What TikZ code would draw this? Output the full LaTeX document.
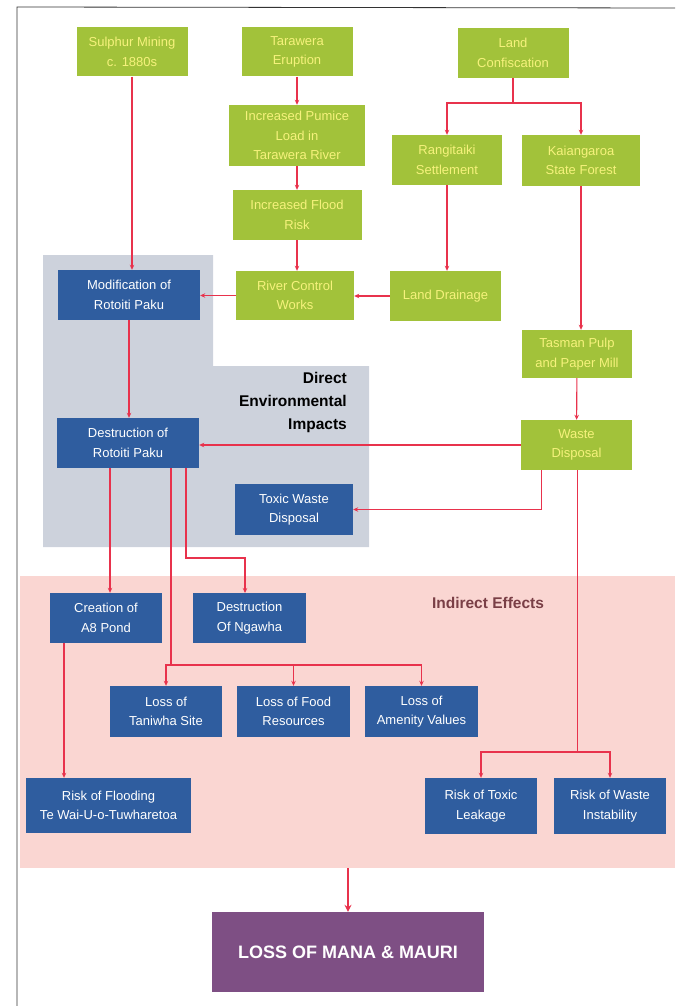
\documentclass[tikz,border=0pt]{standalone}
\usepackage{fontspec}
\setmainfont{Liberation Sans}
\usetikzlibrary{arrows.meta,positioning}
\definecolor{gbox}{HTML}{A2C23A}
\definecolor{gtext}{HTML}{F6F27C}
\definecolor{bbox}{HTML}{2F5D9F}
\definecolor{grayreg}{HTML}{CDD2DC}
\definecolor{pinkreg}{HTML}{FAD6D2}
\definecolor{purp}{HTML}{7E4F84}
\definecolor{lred}{HTML}{E8324C}
\definecolor{indtext}{HTML}{7A3F46}
\tikzset{
  gnode/.style={fill=gbox, text=gtext, align=center, inner sep=0pt, font=\fontsize{13}{19.5}\selectfont},
  bnode/.style={fill=bbox, text=white, align=center, inner sep=0pt, font=\fontsize{13}{19.5}\selectfont},
  conn/.style={draw=lred, line width=1.1pt, -{Stealth[length=5pt,width=4.5pt]}},
  line/.style={draw=lred, line width=1.1pt},
}
\begin{document}
\begin{tikzpicture}[x=1pt,y=-1pt]
\useasboundingbox (0,0) rectangle (675,1006);
% frame
\draw[line width=0.8pt, black!80] (17,1006) -- (17,7) -- (675,8);
% regions
\fill[grayreg] (43,255) -- (213,255) -- (213,366) -- (369,366) -- (369,547) -- (43,547) -- cycle;
\fill[pinkreg] (20,576) rectangle (675,868);
% green nodes
\node[gnode, minimum width=111pt, minimum height=49pt] (sulphur) at (132,52) {Sulphur Mining\\c. 1880s};
\node[gnode, minimum width=111pt, minimum height=49pt] (tarawera) at (297,52) {Tarawera\\Eruption};
\node[gnode, minimum width=111pt, minimum height=50pt] (landconf) at (513,53) {Land\\Confiscation};
\node[gnode, minimum width=136pt, minimum height=61pt] (pumice) at (297,135.5) {Increased Pumice\\Load in\\Tarawera River};
\node[gnode, minimum width=129pt, minimum height=50pt] (flood) at (297,215) {Increased Flood\\Risk};
\node[gnode, minimum width=110pt, minimum height=50pt] (rangi) at (447,160) {Rangitaiki\\Settlement};
\node[gnode, minimum width=118pt, minimum height=51pt] (kaing) at (581,160.5) {Kaiangaroa\\State Forest};
\node[gnode, minimum width=118pt, minimum height=49pt] (river) at (295,295.5) {River Control\\Works};
\node[gnode, minimum width=111pt, minimum height=50pt] (drain) at (445.5,296) {Land Drainage};
\node[gnode, minimum width=110pt, minimum height=48pt] (tasman) at (577,354) {Tasman Pulp\\and Paper Mill};
\node[gnode, minimum width=111pt, minimum height=50pt] (waste) at (576.5,445) {Waste\\Disposal};
% blue nodes
\node[bnode, minimum width=142pt, minimum height=50pt] (modif) at (129,295) {Modification of\\Rotoiti Paku};
\node[bnode, minimum width=142pt, minimum height=50pt] (destr) at (128,443) {Destruction of\\Rotoiti Paku};
\node[bnode, minimum width=118pt, minimum height=51pt] (toxic) at (294,509.5) {Toxic Waste\\Disposal};
\node[bnode, minimum width=112pt, minimum height=50pt] (a8) at (106,618) {Creation of\\A8 Pond};
\node[bnode, minimum width=113pt, minimum height=50pt] (ngawha) at (249.5,618) {Destruction\\Of Ngawha};
\node[bnode, minimum width=112pt, minimum height=51pt] (taniwha) at (166,711.5) {Loss of\\Taniwha Site};
\node[bnode, minimum width=113pt, minimum height=51pt] (food) at (293.5,711.5) {Loss of Food\\Resources};
\node[bnode, minimum width=113pt, minimum height=51pt] (amen) at (421.5,711.5) {Loss of\\Amenity Values};
\node[bnode, minimum width=165pt, minimum height=55pt] (riskflood) at (108.5,805.5) {Risk of Flooding\\Te Wai-U-o-Tuwharetoa};
\node[bnode, minimum width=112pt, minimum height=56pt] (risktox) at (481,806) {Risk of Toxic\\Leakage};
\node[bnode, minimum width=112pt, minimum height=56pt] (riskwaste) at (610,806) {Risk of Waste\\Instability};
\node[fill=purp, text=white, minimum width=272pt, minimum height=80pt, inner sep=0pt, font=\fontsize{18}{21}\selectfont\bfseries] (loss) at (348,952) {LOSS OF MANA \& MAURI};
% labels
\node[anchor=north east, align=right, font=\fontsize{15.5}{23}\selectfont\bfseries, inner sep=0pt] (direct) at (347,372) {Direct\\Environmental\\Impacts};
\node[font=\fontsize{15.5}{18}\selectfont\bfseries, text=indtext, inner sep=0pt] (indirect) at (488,603) {Indirect Effects};
\coordinate (pinkbot) at (348,868);
% connectors
\draw[conn] (sulphur.south) -- (sulphur.south |- modif.north);
\draw[conn] (tarawera) -- (pumice);
\draw[conn] (pumice) -- (flood);
\draw[conn] (flood.south) -- (flood.south |- river.north);
\draw[line] (landconf.south) -- (513,103);
\draw[conn] (513,103) -| (rangi.north);
\draw[conn] (513,103) -| (kaing.north);
\draw[conn] (rangi.south) -- (rangi.south |- drain.north);
\draw[conn] (kaing.south) -- (kaing.south |- tasman.north);
\draw[conn] (drain.west) -- (drain.west -| river.east);
\draw[conn] (river.west) -- (river.west -| modif.east);
\draw[conn] (modif.south) -- (modif.south |- destr.north);
\draw[conn] (tasman) -- (waste);
\draw[conn] (waste.west) -- (waste.west -| destr.east);
\draw[conn] ([xshift=-35pt]waste.south) |- (toxic.east);
\draw[line] ([xshift=1pt]waste.south) -- (577.5,752);
\draw[conn] (577.5,752) -| (risktox.north);
\draw[conn] (577.5,752) -| (riskwaste.north);
\draw[conn] ([xshift=-18pt]destr.south) -- ([xshift=-18pt]destr.south |- a8.north);
\draw[line] ([xshift=43pt]destr.south) -- (171,665);
\draw[conn] (171,665) -| (taniwha.north);
\draw[conn] (171,665) -| (food.north);
\draw[conn] (171,665) -| (amen.north);
\draw[conn] ([xshift=58pt]destr.south) |- (245,558) -- (245,593);
\draw[conn] ([xshift=-42pt]a8.south) -- ([xshift=-42pt]a8.south |- riskflood.north);
\draw[conn, line width=2pt, -{Stealth[length=7pt,width=7pt]}] (pinkbot) -- (loss.north);
\end{tikzpicture}
\end{document}
